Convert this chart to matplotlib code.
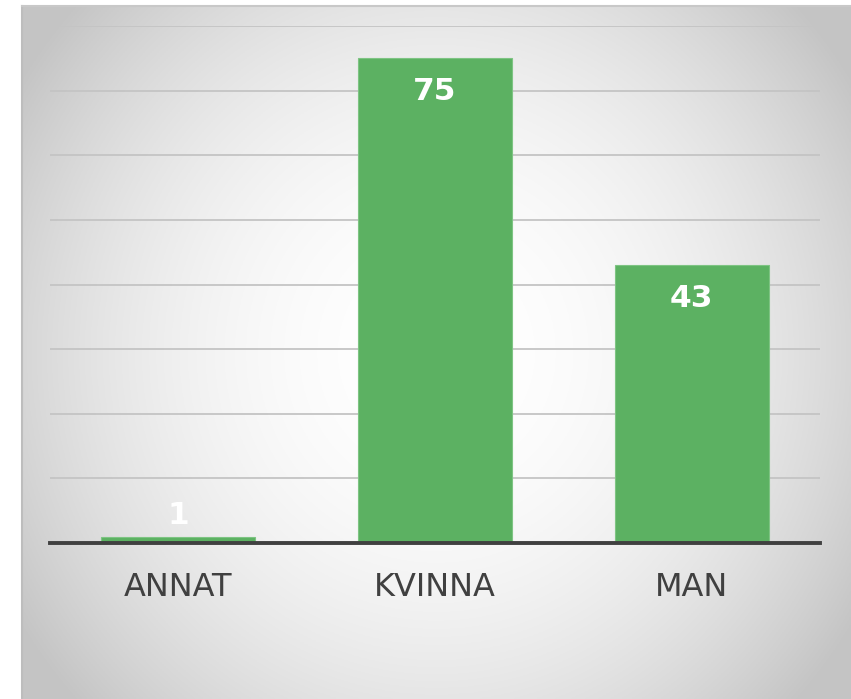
import numpy as np
import matplotlib.pyplot as plt

# Data
categories = ['ANNAT', 'KVINNA', 'MAN']
values = [1, 75, 43]

fig = plt.figure(figsize=(8.51, 6.99), dpi=100)
fig.patch.set_facecolor('white')

# Background panel with radial gradient (white centre, grey edges)
W, H = 851, 699
px0, py0 = 22, 6
bg = fig.add_axes([px0 / W, 0, (W - px0) / W, (H - py0) / H])
nx, ny = 420, 340
xx, yy = np.meshgrid(np.linspace(-1, 1, nx), np.linspace(-1, 1, ny))
d = np.sqrt(xx ** 2 + (0.8 * yy) ** 2)
shade = np.clip(1.0 - 0.16 * d ** 2.1, 0.77, 1.0)
bg.imshow(np.dstack([shade] * 3), aspect='auto', extent=(0, 1, 0, 1))
bg.set_axis_off()
# thin border on top/left
bg.plot([0, 0], [0, 1], color='#bdbdbd', lw=1.5, transform=bg.transAxes, clip_on=False)
bg.plot([0, 1], [1, 1], color='#c8c8c8', lw=1.5, transform=bg.transAxes, clip_on=False)

# Main chart
ax = fig.add_axes([50 / W, (H - 543) / H, 770 / W, (543 - 26) / H])
ax.set_facecolor('none')
x = np.arange(len(categories))
ax.bar(x, values, width=0.6, color='#5cb162', edgecolor='#7ec483', linewidth=0.8, zorder=3)

ax.set_xlim(-0.5, 2.5)
ax.set_ylim(0, 80)
ax.set_yticks(np.arange(10, 81, 10))
ax.yaxis.grid(True, color='#c4c4c4', linewidth=1.3, zorder=0)
ax.set_axisbelow(True)
ax.tick_params(axis='y', left=False, labelleft=False)

for s in ['top', 'right', 'left']:
    ax.spines[s].set_visible(False)
ax.spines['bottom'].set_color('#404040')
ax.spines['bottom'].set_linewidth(2.8)
ax.spines['bottom'].set_zorder(4)

ax.set_xticks(x)
ax.set_xticklabels(categories, fontsize=23, color='#404040')
ax.tick_params(axis='x', length=0, pad=21)

# Value labels
for xi, v in zip(x, values):
    if v > 10:
        ypos = v - 5.1
    else:
        ypos = v + 3.3
    ax.text(xi, ypos, str(v), ha='center', va='center', color='white',
            fontsize=22.5, fontweight='bold', zorder=5)

fig.savefig('out.png', dpi=100, facecolor=fig.get_facecolor())
